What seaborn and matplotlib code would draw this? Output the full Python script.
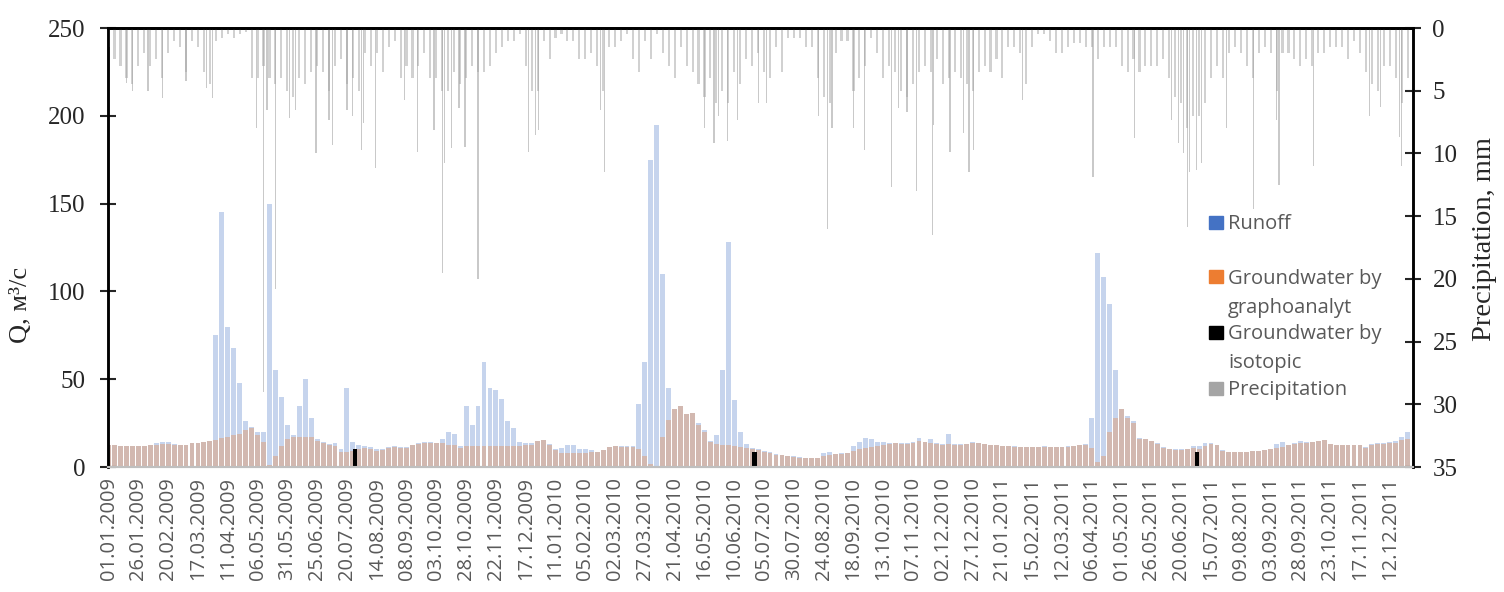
import numpy as np
import pandas as pd
import matplotlib
matplotlib.use('Agg')
import matplotlib.pyplot as plt
import seaborn as sns
from matplotlib.patches import Rectangle

########### Data (5-day step from 01.01.2009) ###########
days = list(range(0, 1095, 5))

runoff = [12.5, 12.3, 12.0, 12.0, 12.0, 12.0, 12.0, 12.3, 13.5, 14.5,
          14.5, 13.0, 12.5, 12.5, 13.5, 13.5, 14.0, 15.0, 75, 145,
          80, 68, 48, 26, 23, 20, 20, 150, 55, 40,
          24, 18, 35, 50, 28, 16, 14, 13, 13.5, 10,
          45, 14, 12.5, 12, 11.5, 10, 10, 11.5, 12, 11.5,
          11.3, 12.5, 13.5, 14, 14, 13.8, 16, 20, 19, 12,
          35, 24, 35, 60, 45, 44, 39, 26, 22, 14,
          13.5, 13.5, 15, 15.5, 13, 10, 11, 12.5, 12.5, 10,
          10.5, 9.5, 8.8, 9.5, 11.5, 12, 12, 11.8, 12, 36,
          60, 175, 195, 110, 45, 33, 35, 30, 31, 25,
          21, 15, 18, 55, 128, 38, 20, 13, 11, 10,
          9.2, 8.5, 7.5, 7, 6.5, 6, 5.5, 5.2, 5.1, 5.3,
          8, 8.5, 7.5, 7.8, 8, 12, 14, 16.5, 16, 14.5,
          14, 13.5, 13.5, 13.5, 13.5, 14, 16.5, 14, 16, 13.5,
          13, 19, 13, 13, 13.3, 14.5, 13.8, 13, 12.5, 12.3,
          12, 11.8, 11.7, 11.6, 11.6, 11.6, 11.6, 11.7, 11.6, 11.6,
          11.6, 11.7, 12.2, 12.7, 13, 28, 122, 108, 93, 55,
          33, 29, 26, 16.5, 16, 15, 13.5, 11.5, 10.5, 10,
          10, 10.5, 12, 12, 13.8, 13.5, 12.5, 9.5, 8.8, 8.7,
          8.7, 8.8, 9, 9.3, 9.5, 10, 13, 14, 12.8, 13.5,
          15, 14, 14, 15, 15.4, 13, 12.8, 12.5, 12.5, 12.5,
          12.5, 11.5, 13, 13.5, 13.5, 14, 15, 17, 20]

groundwater = [12.3, 12.3, 12.0, 12.0, 12.0, 12.0, 12.0, 12.3, 12.5, 13.0,
               13.0, 12.5, 12.3, 12.5, 13.5, 13.5, 14.0, 15.0, 15.5, 16.5,
               17, 18, 19, 21, 22, 18, 14, 1, 6, 12,
               16, 17, 17, 17, 17, 15, 13.8, 12.8, 12, 8.5,
               8.7, 9, 10.3, 10.6, 10.3, 9.3, 9.5, 11, 11.5, 11,
               10.8, 12.3, 13.3, 13.9, 13.9, 13.8, 13.5, 12.8, 12.5, 11,
               12, 12, 12, 12, 12, 12, 12, 12, 12, 12,
               12.5, 12.8, 15, 15.5, 12.8, 9.5, 8, 7.8, 7.8, 7.8,
               7.8, 8.5, 8.7, 9.5, 11.5, 11.8, 11.6, 11.6, 11.6, 10,
               6, 2, 0.5, 17, 27, 33, 35, 30, 31, 24,
               20, 14, 13, 12.5, 12.3, 12, 11.5, 11, 10, 9.5,
               8.5, 8, 7, 6.8, 6.3, 5.9, 5.3, 5.1, 5.1, 5.3,
               6.5, 7, 7.4, 7.6, 8, 9.3, 10, 11, 11.5, 12,
               12.8, 13.3, 13.5, 13.3, 13.3, 13.5, 14.8, 14, 13.5, 13,
               12.7, 13, 12.8, 12.8, 13, 13.8, 13.5, 13, 12.5, 12.3,
               12, 11.8, 11.6, 11.6, 11.6, 11.6, 11.6, 11.6, 11.6, 11.6,
               11.6, 11.6, 12, 12.5, 12.5, 11, 3, 6, 20, 28,
               33, 28, 25, 16, 15.7, 14.8, 13.3, 11, 10.2, 9.8,
               9.7, 10, 10.6, 10.3, 12, 13, 12.3, 9.3, 8.7, 8.7,
               8.7, 8.8, 9, 9.2, 9.5, 10, 10.8, 11.5, 12.5, 13.3,
               13.8, 13.8, 14, 15, 15.4, 13, 12.8, 12.5, 12.5, 12.3,
               12.3, 11, 12.5, 13.2, 13.3, 13.5, 13.8, 15.5, 15.7]

precipitation = [1.5, 2.5, 3, 4, 4.5, 3, 2, 3, 2.5, 4,
                 2, 1, 1.5, 3.5, 1, 1.5, 3.5, 4.5, 1, 0.8,
                 0.5, 0.8, 0.5, 0.3, 4, 4, 3, 4, 4.5, 4,
                 5, 5.5, 4, 4.5, 3.5, 3, 3.5, 5, 3, 2.5,
                 4.5, 4, 5, 2, 3, 2, 3.5, 1.5, 1, 4,
                 3, 4, 3, 2, 4, 4, 5, 5, 3.5, 4.5,
                 4, 3, 3.5, 3.5, 3, 2, 1.5, 1, 1, 0.5,
                 3, 5, 5, 1, 2.5, 0.8, 0.5, 1, 1, 2.5,
                 2.5, 2, 3, 5, 1.5, 1.5, 1, 0.5, 2.5, 3.5,
                 1, 2.5, 0.5, 2, 3, 4, 1.5, 3, 3.5, 4.5,
                 5.5, 4, 6, 5, 6, 3.5, 4.5, 2.5, 3, 2,
                 3.5, 4, 1.5, 3.5, 0.8, 0.8, 0.8, 1.5, 1.5, 4,
                 5.5, 6, 2, 1, 1, 5, 4, 3, 0.8, 2,
                 4, 3, 3.5, 5, 5.5, 4.5, 3.5, 3, 3.5, 2.5,
                 4.5, 4, 3.5, 4, 4.5, 5, 3.5, 3, 3.5, 2.5,
                 4, 1.5, 1.5, 2, 4.5, 1.5, 0.5, 0.5, 1, 2,
                 2, 1.5, 1.2, 1.2, 1.5, 1.5, 2.5, 1.5, 1.5, 1.5,
                 3, 3.5, 2.5, 3.5, 3, 3, 3, 2.5, 4, 5.5,
                 6, 8, 7, 7, 6, 4, 3, 4, 2, 1.5,
                 2, 3, 4, 2, 1.5, 2, 5, 2, 2, 2.5,
                 3, 2.5, 3, 2, 2, 1.5, 1.5, 1.5, 2.5, 1,
                 2, 3.5, 4.5, 5, 3, 3, 4, 6, 4]

# single rainy days that stand out from the background
spike_day = [15, 20, 33, 45, 65, 82, 87, 124, 130, 133, 140, 152, 157, 174,
             185, 188, 200, 205, 212, 214, 224, 248, 259, 273, 280, 282, 288,
             294, 299, 310, 352, 358, 361,
             413, 416, 500, 508, 512, 519, 528, 545, 552, 596, 603, 607, 625,
             634, 657, 663, 670, 678, 691, 692, 706, 717, 722, 726,
             767, 826, 861, 892, 898, 902, 905, 907, 913, 917, 938, 961, 980,
             982, 1011, 1058, 1067, 1083, 1085]
spike_mm = [4.4, 5.0, 5.0, 5.6, 4.2, 4.8, 5.6, 8.0, 29.0, 6.5, 20.8, 7.2, 6.5, 10.0,
            7.3, 9.3, 6.5, 7.0, 9.7, 7.6, 11.2, 5.7, 9.9, 8.1, 19.5, 10.8, 9.6,
            6.4, 9.5, 20.0, 9.9, 8.5, 8.1,
            6.5, 11.5, 8.0, 9.2, 7.0, 9.0, 7.3, 6.0, 6.0, 7.0, 16.0, 8.0, 8.0,
            9.7, 12.7, 6.4, 6.7, 13.0, 16.5, 7.7, 9.9, 8.4, 11.5, 9.7,
            5.7, 11.9, 8.8, 7.3, 9.2, 10.0, 15.9, 11.5, 11.3, 10.8, 8.0, 14.4, 7.3,
            12.5, 11.0, 7.0, 6.3, 8.7, 11.0]

iso_day = [207, 542, 913]
iso_q = [10.0, 8.5, 8.5]

tick_days = list(range(0, 1095, 25))
tick_labels = pd.date_range('2009-01-01', periods=len(tick_days), freq='25D').strftime('%d.%m.%Y')

df = pd.DataFrame({'day': days, 'runoff': runoff, 'gw': groundwater, 'precip': precipitation})

############ Plot ############
sns.set_style('white')
plt.rcParams['font.family'] = ['Liberation Serif', 'DejaVu Serif']

fig, ax = plt.subplots(figsize=(15.04, 5.92), dpi=100)
fig.subplots_adjust(left=0.0718, right=0.9395, top=0.9527, bottom=0.2111)

sns.barplot(data=df, x='day', y='runoff', native_scale=True, color='#4472C4', alpha=0.3,
            saturation=1, width=0.82, linewidth=0, errorbar=None, ax=ax)
sns.barplot(data=df, x='day', y='gw', native_scale=True, color='#ED7D31', alpha=0.32,
            saturation=1, width=0.82, linewidth=0, errorbar=None, ax=ax)
ax.bar(iso_day, iso_q, width=3.5, color='black', linewidth=0, zorder=3)

ax2 = ax.twinx()
sns.barplot(data=df, x='day', y='precip', native_scale=True, color='#A5A5A5', alpha=0.5,
            saturation=1, width=0.35, linewidth=0, errorbar=None, ax=ax2)
ax2.bar(spike_day, spike_mm, width=1.0, color='#A5A5A5', alpha=0.6, linewidth=0)

ax.set_xlim(-0.5, 1094.5)
ax.set_ylim(0, 250)
ax.set_yticks(range(0, 251, 50))
ax2.set_ylim(35, 0)
ax2.set_yticks(range(0, 36, 5))

ax.set_xticks(tick_days)
ax.set_xticklabels(tick_labels, rotation=90, fontfamily='Open Sans', fontsize=14.5, color='#595959')
ax.tick_params(axis='x', length=0, pad=7)
ax.tick_params(axis='y', left=True, direction='inout', length=12, width=1.5, labelsize=18, pad=10)
ax2.tick_params(axis='y', right=True, direction='inout', length=12, width=1.5, labelsize=18, pad=8)

ax.set_xlabel('')
ax.set_ylabel('Q, м³/с', fontsize=19)
ax.yaxis.set_label_coords(-0.058, 0.37)
ax2.set_ylabel('Precipitation, mm', fontsize=20.5)
ax2.yaxis.set_label_coords(1.045, 0.52)

for a in (ax, ax2):
    a.spines['bottom'].set_color('#BFBFBF')
    a.spines['bottom'].set_linewidth(1.5)
    a.spines['top'].set_color('black')
    a.spines['top'].set_linewidth(2)
    a.spines['left'].set_color('black')
    a.spines['left'].set_linewidth(1.8)
    a.spines['right'].set_color('black')
    a.spines['right'].set_linewidth(1.8)

############ Legend ############
W, H = 1504, 592
boxes = [('#4472C4', 216), ('#ED7D31', 270), ('black', 326), ('#A5A5A5', 382)]
for col, top in boxes:
    fig.patches.append(Rectangle((1209 / W, 1 - (top + 13) / H), 14 / W, 13 / H,
                                 transform=fig.transFigure, color=col))
lines = [('Runoff', 229), ('Groundwater by', 284), ('graphoanalyt', 313),
         ('Groundwater by', 339), ('isotopic', 368), ('Precipitation', 395)]
for txt, base in lines:
    fig.text(1228 / W, 1 - base / H, txt, va='baseline', ha='left',
             fontfamily='Open Sans', fontsize=14.5, color='#595959')

plt.savefig('out.png', dpi=100)
